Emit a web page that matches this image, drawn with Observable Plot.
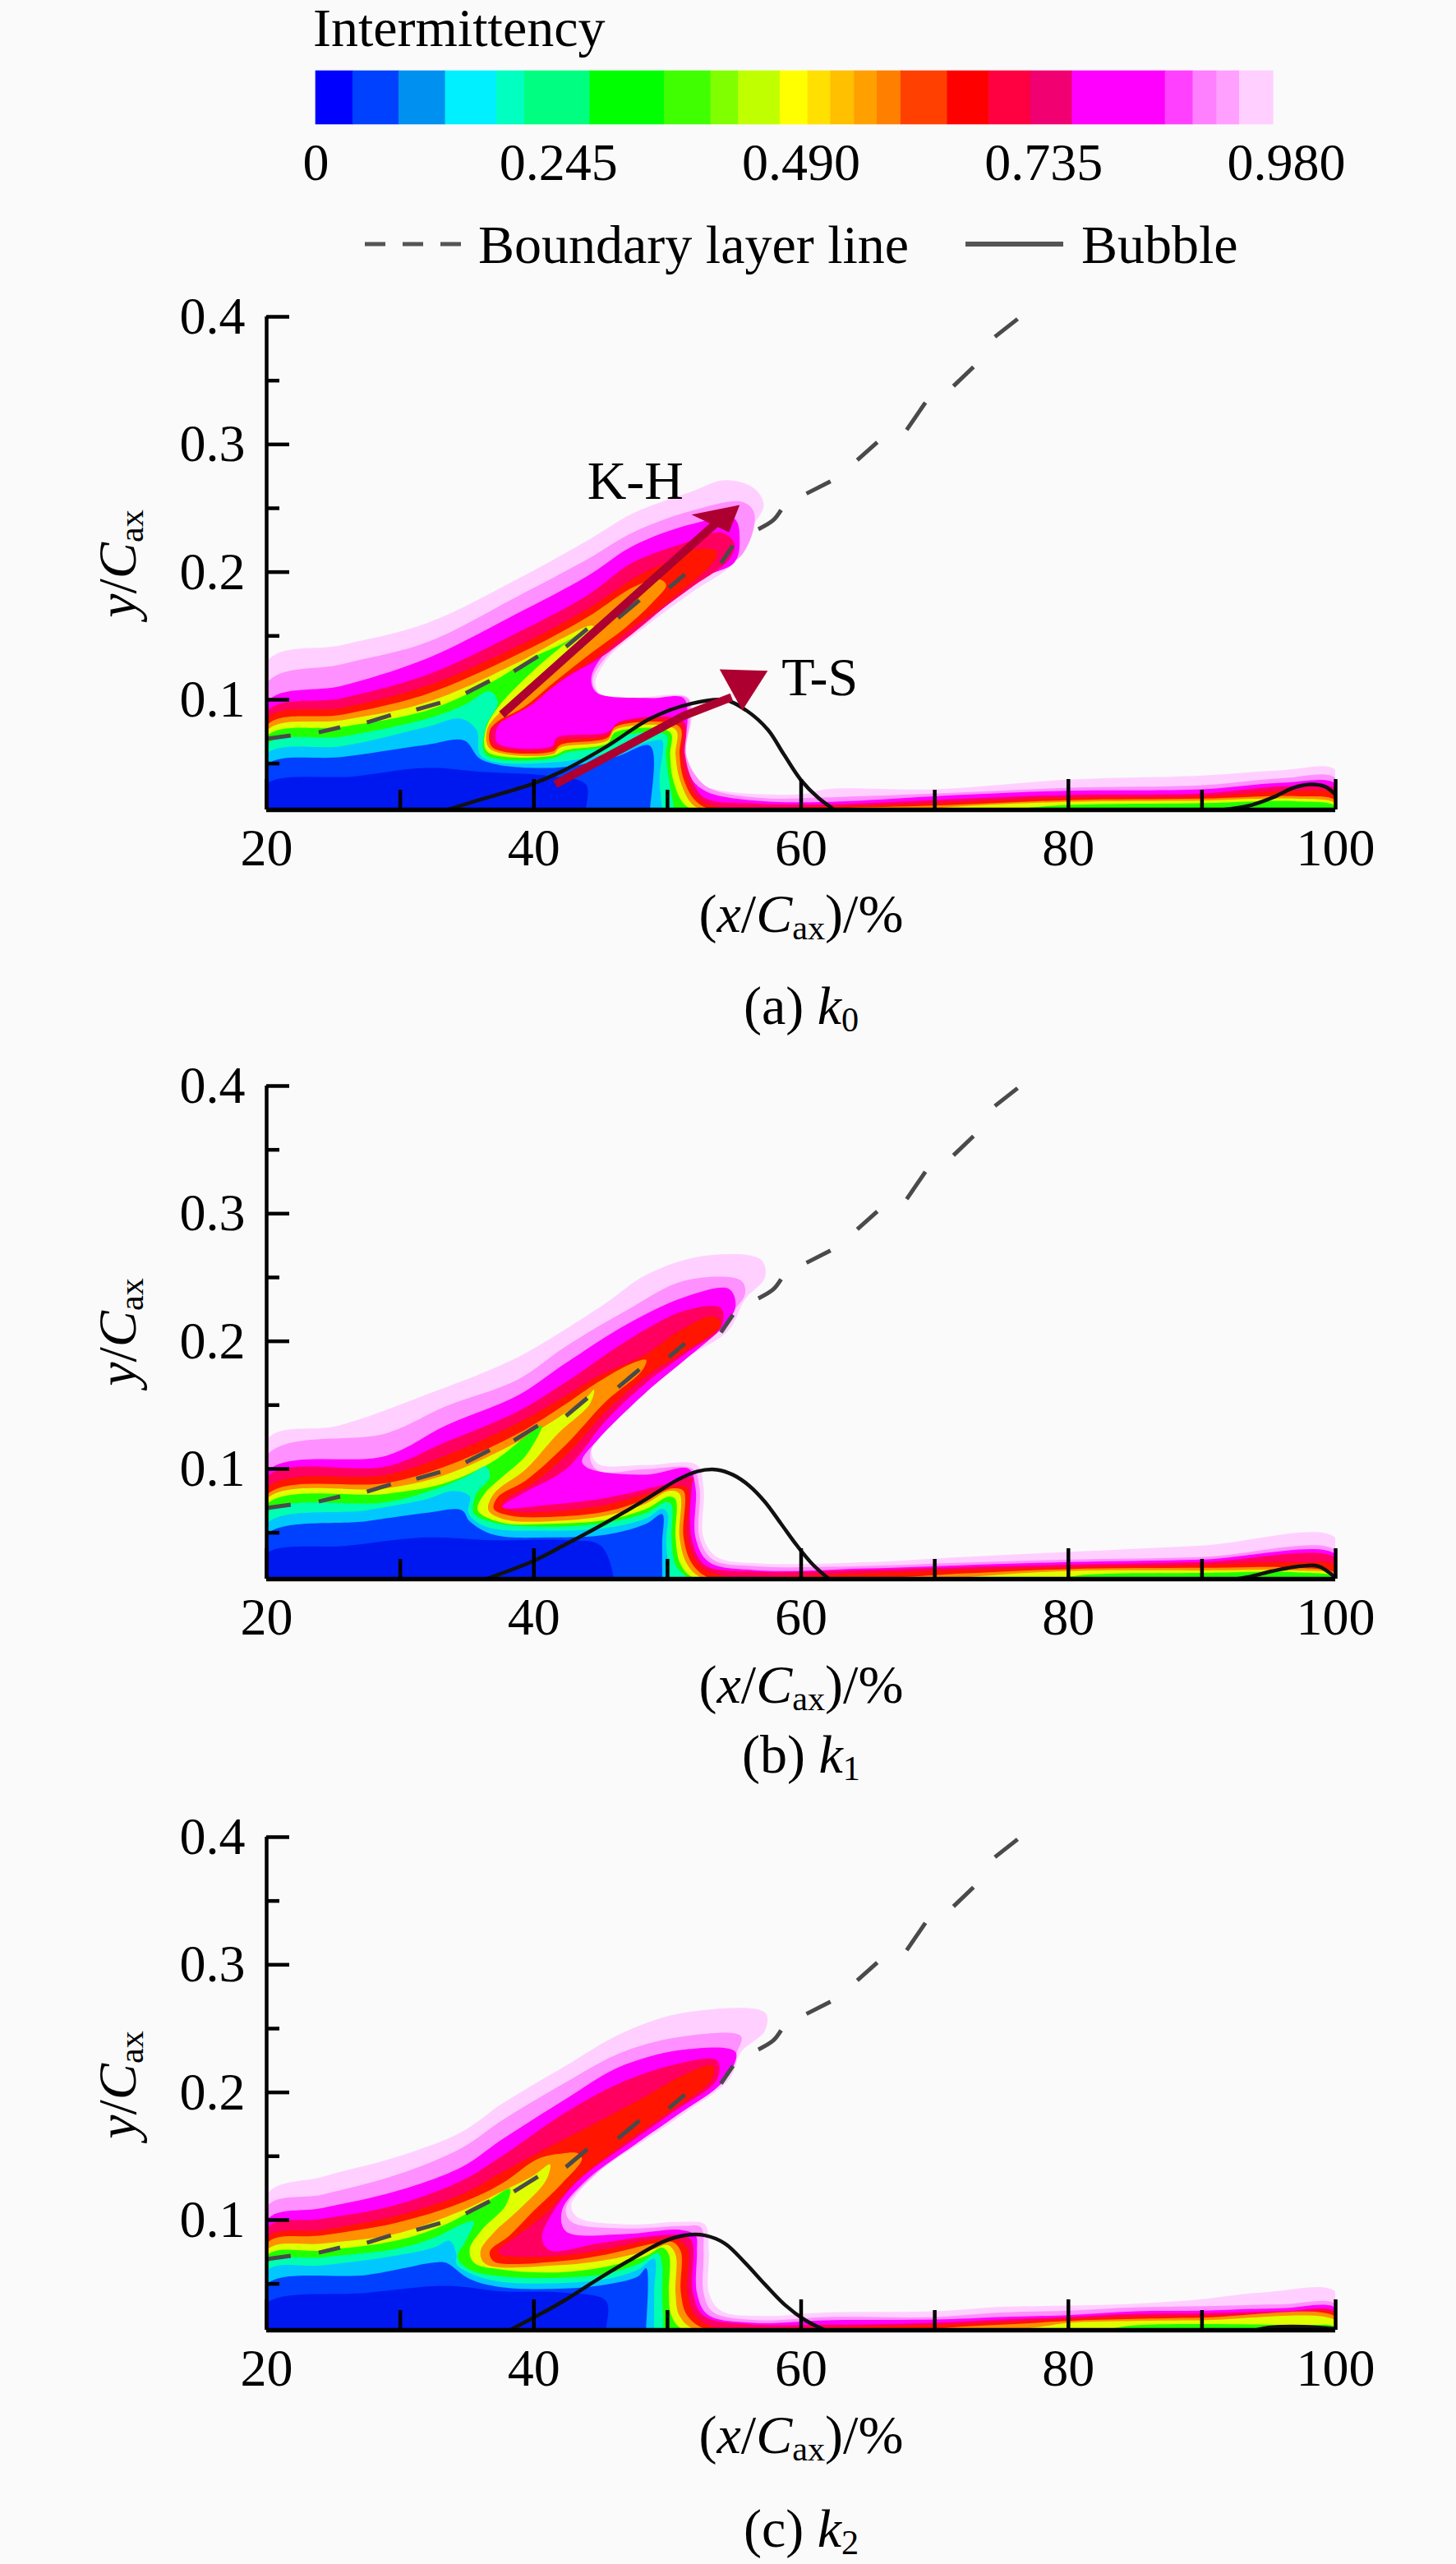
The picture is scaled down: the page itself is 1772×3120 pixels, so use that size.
<!DOCTYPE html>
<html><head><meta charset="utf-8">
<script src="https://cdn.jsdelivr.net/npm/d3@7"></script>
<script src="https://cdn.jsdelivr.net/npm/@observablehq/plot@0.6"></script>
<style>
html,body{margin:0;background:#fafafa}
#page{position:relative;width:1772px;height:3120px;overflow:hidden;font-family:"Liberation Serif",serif;color:#000;background:#fafafa}
#page svg{position:absolute;left:0;overflow:visible}
.t{position:absolute;white-space:nowrap;font-size:66px;line-height:1;transform:translate(-50%,-50%)}
.l{position:absolute;white-space:nowrap;font-size:66px;line-height:1}
.t i{font-style:italic}
.t sub{font-size:.64em;line-height:0;vertical-align:-.22em}
</style></head><body><div id="page"></div>
<script>
// ---- colour bar ----
const barLimits=[0,.0375,.084,.131,.183,.211,.277,.352,.399,.427,.469,.497,.52,.544,.567,.591,.638,.68,.722,.764,.858,.886,.91,.933,.967];
const barColors=["#0000ff","#0040ff","#0090f0","#00f0ff","#00ffc0","#00ff80","#00ff00","#40ff00","#80ff00","#c0ff00","#ffff00","#ffe000","#ffc000","#ffa000","#ff8000","#ff4000","#ff0000","#ff0040","#f00070","#ff00ff","#ff40ff","#ff80ff","#ffa0ff","#ffd0ff"];
const barTicks=[0,.245,.49,.735,.98];
// ---- contour level fills, outermost first ----
const levelColors=["#ffd0ff","#ff90ff","#ff00ff","#ff0060","#ff1500","#ff9000","#e0ff00","#20ff00","#00ffb0","#00c8ff","#0040ff","#0018f0"];
const BOTTOM=.0137;
// Panel (a) k0: flat x,y pairs
const a96=[20,.130,25.7,.143,32,.160,38.6,.1936,44,.2247,47.4,.246,51.8,.263,54.3,.272,56.5,.2655,57.2,.2525,56.2,.233,55,.2075,51.8,.184,48.7,.160,45.5,.132,44.6,.111,45.5,.101,51.5,.102,51.8,.085,51.3,.0573,52.4,.0358,53.7,.0294,60,.026,62,.030,70,.0298,80,.0373,90,.0405,96,.0448,100,.0448];
const a91=[20,.113,25.7,.128,32,.145,38.6,.180,44,.21,47.4,.231,51.8,.248,55.6,.255,56.5,.246,55.6,.214,52.1,.1925,48.7,.1625,45.5,.1345,44.4,.115,45,.1034,48.7,.1013,51.5,.1013,51.7,.085,51.4,.0573,52.3,.038,53.4,.0294,57,.023,62,.0235,70,.0265,80,.031,90,.033,96,.0385,100,.0385];
const a86=[20,.098,25.7,.111,32,.1324,38.6,.1667,44,.1968,47.4,.2204,51.8,.2376,55,.242,55.4,.2247,55,.2075,51.8,.1925,48.7,.1646,45.5,.1388,44.3,.1174,44.7,.1056,48.7,.1013,51.2,.1013,51.5,.085,51.2,.0573,51.8,.038,53,.0276,57,.0206,62,.02,70,.0244,80,.0287,90,.0298,96,.035,100,.034];
const a72=[20,.0906,25.7,.1013,32,.1195,38.6,.1517,44,.1818,47.4,.2075,51.2,.2225,54,.231,55,.2225,54.6,.2097,51.8,.188,49.6,.171,47.4,.152,44.9,.1324,42.4,.1174,40.2,.1002,38,.0873,37.2,.0766,37.3,.0659,41.4,.0637,41.7,.0702,45.5,.0745,46.5,.083,51.2,.083,51.3,.0573,51.8,.038,52.8,.023,56.5,.0187,62,.018,70,.0215,80,.0255,90,.0265,96,.032,100,.03];
const a64=[20,.0852,25.7,.0938,32,.111,38.6,.141,44,.171,47.4,.1946,49.9,.2075,52.1,.218,53.7,.216,53.4,.2075,49.6,.173,47.1,.154,44.9,.1345,42,.115,39.8,.096,37.6,.083,36.8,.0766,37,.0648,41.4,.0616,41.7,.067,45.5,.0723,46.3,.081,51,.081,51.1,.0573,51.5,.038,52.4,.0219,54,.0155,62,.0165,70,.019,80,.0234,90,.0244,97,.0287,100,.026];
const a57=[20,.0798,25.7,.0884,32,.1045,38.6,.1345,44,.1646,47.4,.188,49.3,.1946,49.9,.19,49,.1775,46.8,.156,44.3,.1367,41.7,.1152,39.2,.0938,37.3,.083,36.7,.0755,36.9,.0627,41.4,.0594,42,.0648,45.5,.0702,46.1,.0788,50.9,.0788,50.9,.0573,51.2,.038,52.1,.0208,53.4,.0137,62,.015,70,.017,80,.0213,90,.0225,97,.0245,100,.021];
const a47=[20,.0755,25.7,.0841,32,.098,38.6,.1281,42.4,.1496,44.3,.158,44.6,.156,42.4,.1367,39.8,.1131,37.6,.0916,36.5,.0766,36.7,.0616,41.4,.0573,42,.0627,45.5,.068,46.1,.0766,50.6,.0766,50.6,.0573,50.9,.038,51.8,.0187,52.8,.0137,68,.0137,72,.0165,80,.02,90,.021,97,.0225,100,.0185];
const a40=[20,.0712,25.7,.0788,32,.0916,36.7,.1131,39.8,.1324,42.4,.1453,44,.156,42,.141,39.2,.1152,37.3,.0938,36.4,.0766,36.5,.0594,41.4,.0562,42.4,.0605,45.5,.0659,46.1,.0745,50.2,.0745,50.2,.0573,50.4,.038,51.2,.0187,52.1,.0137,74,.0137,80,.0175,90,.019,97,.0205,100,.0165];
const a21=[20,.0648,25.7,.0712,32,.0852,34.8,.096,36.7,.1067,37.3,.098,36.4,.0788,36.4,.0573,41.4,.0541,42.4,.0584,45.5,.0637,46.5,.0712,49.9,.0723,49.9,.0573,50.1,.038,50.5,.0137];
const a13=[20,.0573,25.7,.0637,32,.0788,34.5,.0852,35.7,.0766,36.1,.0552,41.4,.0509,46.1,.0594,49,.068,49.6,.068,49.4,.038,49.6,.0137];
const a08=[20,.0487,25.7,.0552,32,.0648,34.8,.068,36.1,.053,41.4,.0466,46.1,.0552,48.7,.0637,48.7,.0137];
const a04=[20,.0337,26.6,.04,32,.0466,36.1,.0434,41.4,.04,43.9,.0337,43.9,.0137];
// Panel (b) k1
const b96=[20,.123,25.4,.134,31.9,.158,37.9,.183,40.9,.200,45.4,.230,48.4,.252,52.8,.267,57,.264,57.3,.250,55.8,.233,54.6,.209,51.6,.188,48.4,.162,45.4,.134,44.3,.115,44.8,.104,48.4,.103,52.2,.103,52.7,.085,52.7,.046,53.7,.031,57,.026,65,.027,72,.031,80,.035,90,.04,100,.046];
const b91=[20,.1105,29,.128,33.4,.149,38.8,.170,42.4,.196,46.9,.224,51.3,.2475,55.5,.2475,55.8,.237,54.3,.2175,51.9,.194,48.7,.166,45,.1275,44.2,.110,44.8,.0985,48.4,.0998,51.9,.0998,52.4,.085,52.4,.046,53.4,.029,56.7,.0237,65,.024,72,.0265,80,.029,90,.031,100,.036];
const b86=[20,.0976,29,.1105,33.4,.134,38.8,.1576,42.4,.183,46.9,.213,51.3,.2347,54.6,.241,55.1,.228,54.3,.213,51.3,.1854,48.4,.160,44.8,.123,43.6,.106,44.2,.10,48.4,.0955,51.6,.1,52.1,.085,52.1,.046,53.1,.027,56.7,.0206,65,.022,72,.0245,80,.027,90,.029,100,.033];
const b72=[20,.0934,29,.102,33.4,.121,38.8,.145,42.4,.168,46.9,.20,51.3,.224,54,.226,54,.211,51.3,.19,48.7,.17,45.4,.138,42.4,.0998,39.1,.0805,37.6,.0698,41.2,.072,45.4,.0773,49.9,.088,51.9,.0934,51.8,.085,51.8,.046,52.8,.0248,56.7,.0195,65,.021,72,.023,80,.025,90,.027,100,.03];
const b64=[20,.0848,29,.0955,33.4,.1105,38.8,.136,42.4,.1576,44.8,.1726,48.4,.19,50.7,.2069,53.4,.2197,54,.2133,51.3,.192,48.4,.1726,45.4,.1448,42.4,.1105,40,.089,37.9,.0762,37.6,.0709,38.5,.0666,41.2,.0666,45.4,.072,48.4,.0805,50.7,.087,51.5,.0848,51.5,.0463,52.4,.0248,54.3,.016,60,.0165,65,.0185,72,.021,80,.023,90,.025,97,.027,100,.024];
const b57=[20,.0794,29,.089,33.4,.102,38.8,.1276,42.4,.151,44.5,.166,47.2,.182,48.4,.1854,48.1,.177,45.4,.153,42.4,.119,39.4,.091,37.3,.078,37,.0687,38.2,.0634,41.2,.0623,45.4,.0666,48.4,.0762,50.4,.0848,51.2,.0827,51.2,.0463,51.9,.0248,53.4,.0137,66,.0145,72,.018,80,.0215,90,.0225,97,.0225,100,.018];
const b47=[20,.0762,29,.0848,33.4,.0955,38.8,.1212,41.2,.136,43.9,.1555,44.5,.162,44.2,.151,41.8,.1276,39.4,.0998,37,.0805,36.6,.0677,37.9,.0602,41.2,.059,45.4,.0634,48.4,.073,50.1,.0827,50.9,.0805,50.9,.0463,51.5,.0248,52.8,.0137,70,.0137,74,.0165,80,.02,90,.0205,97,.0205,100,.017];
const b40=[20,.072,29,.0805,33.4,.0891,37,.1062,39.4,.1255,40.6,.134,39.4,.1105,37.6,.0934,36.3,.0805,35.8,.0677,37.6,.058,41.2,.057,45.4,.060,48.4,.0687,50.1,.0784,50.6,.0762,50.6,.0463,51,.0248,52.2,.0137,78,.0137,82,.0175,90,.0185,97,.019,100,.015];
const b21=[20,.0655,29,.074,32.8,.0848,35.2,.0955,36.4,.102,36.7,.0934,35.7,.0805,35.5,.0655,37,.058,41.2,.0548,45.4,.058,48.4,.0655,49.9,.074,50.3,.072,50.3,.0463,50.6,.0248,51.5,.0137];
const b13=[20,.057,27.5,.0677,31.9,.0762,34,.0827,35.2,.0784,35.1,.0655,36.4,.0548,41.2,.0516,45.4,.0537,48.4,.0612,49.6,.0687,50,.0655,49.9,.042,50.2,.0137];
const b08=[20,.0484,27.5,.0591,31.9,.0655,34.6,.0677,35.2,.059,37,.0484,41.2,.0463,45.4,.0484,48.4,.057,49.6,.0645,49.6,.042,49.6,.0137];
const b04=[20,.0334,26,.0398,31.9,.0463,37,.0441,42.4,.0441,45,.04,46,.0137];
// Panel (c) k2
const c96=[20,.120,24.2,.134,29.6,.149,34.6,.169,37.6,.191,42.4,.221,46.6,.2465,51.3,.2625,57.3,.2625,57.3,.2486,55.5,.2315,54.6,.21,51.3,.184,48.4,.163,44.8,.137,42.8,.1116,43.3,.102,46.9,.0966,51.3,.0987,52.8,.0966,53.1,.0752,53.1,.043,54,.029,57.3,.0248,62,.0277,70,.0285,75,.032,80,.033,84,.034,89,.037,95,.0437,100,.0437];
const c91=[20,.1105,24.2,.120,29.6,.135,34.6,.1565,37.6,.178,42.4,.208,46.6,.2315,51.3,.244,55.5,.244,55.2,.2315,54.3,.21,51,.184,48.1,.163,44.5,.135,42.4,.1094,42.8,.0987,46.9,.0934,51.3,.0955,52.5,.0944,52.7,.0752,52.7,.043,53.4,.028,56.7,.0216,62,.024,70,.024,75,.0275,80,.029,85,.0315,90,.0325,96,.034,100,.034];
const c86=[20,.0998,24.2,.1094,29.6,.1223,34.6,.1415,37.6,.163,42.4,.195,46.6,.2208,51.3,.2336,55.1,.2315,54.3,.21,50.7,.182,47.8,.1608,43.9,.1308,42.1,.1073,42.4,.0912,46.9,.0891,51,.0923,52.1,.088,52.2,.0752,52.2,.043,53,.026,56.4,.0195,62,.0215,70,.022,75,.024,80,.0255,85,.0285,90,.029,96,.031,100,.031];
const c72=[20,.0934,24.2,.1009,29.6,.1116,34.6,.1308,37.6,.15,42.4,.1844,46.6,.208,51,.223,53.7,.225,53.7,.21,50.4,.1844,47.2,.1608,43.3,.1308,41.5,.1073,40.6,.0859,41.2,.0762,44.8,.0816,48.4,.087,51,.088,51.8,.0837,51.9,.043,52.7,.025,56.1,.0184,62,.018,70,.0195,75,.022,80,.024,85,.0265,90,.027,96,.0285,100,.028];
const c64=[20,.0859,24.2,.0923,29.6,.103,34.6,.1201,37.6,.1373,40.6,.1544,44.2,.1737,48.4,.1972,51.3,.2143,53.4,.2208,53.3,.21,50.1,.1844,46.6,.1587,43,.1287,40.9,.1051,38.8,.088,37.3,.0752,37.6,.0726,41.8,.072,45.4,.0773,49,.0848,50.7,.0848,51.5,.0773,51.5,.043,52.1,.025,53.7,.0155,62,.016,70,.018,75,.02,80,.0225,85,.0245,90,.025,96,.0265,100,.0265];
const c57=[20,.0816,24.2,.088,29.6,.0976,34.6,.1137,37.6,.1287,40.3,.148,42.1,.1522,43.3,.1522,43.6,.148,42.1,.1287,40,.1073,38.2,.088,36.7,.0752,37,.0677,41.8,.0677,45.4,.073,49,.0816,50.4,.0827,51,.0752,51,.043,51.5,.025,53.1,.0137,68,.0137,72,.0165,76,.0185,80,.021,85,.0225,90,.0235,100,.024];
const c47=[20,.0762,24.2,.0816,29.6,.0891,34.6,.1073,37.6,.1223,40,.1351,41.2,.1437,40.9,.1308,38.8,.1073,37,.0901,36,.0752,36.4,.0655,41.8,.0645,45.4,.0687,49,.0773,50,.0805,50.6,.073,50.6,.043,50.9,.025,52.2,.0137,75,.0137,78,.0165,80,.0195,85,.021,90,.0215,100,.021];
const c40=[20,.072,24.2,.0762,29.6,.0837,33.4,.0966,36.7,.1158,38.2,.1244,37.9,.1116,36.1,.0923,35.2,.0773,35.5,.0666,37.6,.0612,41.8,.059,45.4,.0634,48.4,.072,49.6,.0784,50.1,.073,50.1,.043,50.3,.025,51.3,.0137,82,.0137,85,.0175,90,.0185,97,.0175,100,.016];
const c21=[20,.0655,24.2,.0709,29.6,.0773,32.5,.0859,34.6,.0966,35.5,.0987,34.9,.0837,34.3,.0709,35.2,.0612,37.6,.0559,41.8,.0548,45.4,.058,47.8,.0655,49.3,.0741,49.6,.0645,49.6,.043,49.7,.0137];
const c13=[20,.0602,24.2,.0645,29.6,.072,32.5,.0784,33.7,.0837,34.2,.073,34.2,.0655,35.5,.057,37.6,.0516,41.8,.0505,45.4,.0537,47.8,.0612,49,.0698,49,.043,49,.0137];
const c08=[20,.0495,27.5,.057,32.5,.0666,33.4,.0666,35.2,.0537,37.6,.0473,41.8,.0462,45.4,.0495,47.8,.0559,48.4,.0623,48.4,.0137];
const c04=[20,.0345,27.5,.043,33.4,.0484,37.6,.0441,42.4,.043,45.4,.0366,45.4,.0137];
// Bubble outlines
const aBubble1=[33.5,.0137,35.7,.0208,39.8,.0337,42,.0434,45.5,.0637,48.7,.0852,51.8,.097,54.3,.0998,55.9,.0916,57.5,.0766,58.7,.0573,60,.0369,61.3,.023,62.5,.0137];
const aBubble2=[91.5,.0137,93.5,.0169,95.3,.0234,96.8,.0309,98.1,.0337,99.2,.032,100,.0255];
const bBubble1=[36.4,.0137,40,.028,42.4,.041,45.4,.058,48.4,.0762,50.7,.0912,52.2,.098,53.7,.0994,54.9,.0954,56.1,.087,57.3,.0741,58.5,.057,59.7,.0398,60.9,.0248,62.1,.0137];
const bBubble2=[92.5,.0137,93.7,.0159,95.3,.02,97.4,.0238,98.7,.0238,100,.0148];
const cBubble1=[38.2,.0137,40.6,.027,42.4,.0377,44.8,.0537,47.2,.0687,49.6,.0827,51.3,.088,52.8,.088,54.3,.0816,55.8,.0666,57.3,.0495,58.8,.0334,60.3,.0216,61.8,.0137];
const cBubble2=[94,.0137,95,.0158,97.6,.0165,100,.0148];
// Boundary layer line, one list per visible dash
const blDashes=[
 [20,.0694,21.8,.072],[23.9,.0745,25.5,.0784],[27.5,.0822,29.3,.088],[31.2,.0923,33,.0976],
 [34.9,.1051,36.7,.1148],[38.5,.1223,40.3,.134],[42.4,.1415,44,.1555],[46.3,.164,47.9,.178],
 [50.1,.1876,51.3,.1983],[54,.2069,54.9,.2208],[56.8,.2336,57.9,.2405,58.5,.2486],[60.4,.2615,62.2,.2711],
 [64.2,.2878,65.7,.3017],[67.9,.3114,69.3,.3328],[71.4,.3457,72.9,.3607],[74.5,.3843,76.2,.3983]];
// Arrows in panel (a)
const khShaft=[37.6,.0884,53.6,.238], khHead=[55.4,.2526,51.8,.245,54.6,.2311];
const tsShaft=[41.6,.0337,51.2,.0873,54.8,.102], tsHead=[55.6,.0916,53.9,.1238,57.5,.1227];
const xMajor=[20,40,60,80,100], xMinor=[30,50,70,90], yMajor=[.1,.2,.3,.4], yMinor=[.05,.15,.25,.35];
const arrowColor="#ad0030", fontFamily='"Liberation Serif",serif', fs=64;

const rows=f=>{const r=[];for(let i=0;i<f.length;i+=2)r.push({x:f[i],y:f[i+1]});return r};
const closed=f=>{const r=rows(f);r.unshift({x:r[0].x,y:BOTTOM-.006});r.push({x:r[r.length-1].x,y:BOTTOM-.006});return r};
const page=document.getElementById("page");
const style={background:"none",fontFamily,overflow:"visible"};

function panel(levels,bubbles,top,extra=[]){
  const mt=50,h=600,mb=100;
  const svg=Plot.plot({
    width:1772,height:mt+h+mb,marginLeft:324,marginRight:147,marginTop:mt,marginBottom:mb,style,
    x:{domain:[20,100],axis:null},y:{domain:[BOTTOM,.4],axis:null},
    marks:[
      ...levels.map((f,i)=>Plot.line(closed(f),{x:"x",y:"y",fill:levelColors[i],stroke:"none",curve:"catmull-rom",clip:true})),
      ...blDashes.map(f=>Plot.line(rows(f),{x:"x",y:"y",stroke:"#4a4a4a",strokeWidth:5,strokeLinecap:"butt",curve:"catmull-rom",clip:true})),
      ...bubbles.map(f=>Plot.line(rows(f),{x:"x",y:"y",stroke:"#111",strokeWidth:4.5,curve:"catmull-rom",clip:true})),
      ...extra,
      Plot.axisX(xMinor,{anchor:"bottom",tickSize:-24,strokeWidth:4.5,text:null,label:null}),
      Plot.axisX(xMajor,{anchor:"bottom",tickSize:-37,strokeWidth:4.5,text:null,label:null}),
      Plot.axisX(xMajor,{anchor:"bottom",tickSize:0,tickPadding:22,fontSize:fs,label:null}),
      Plot.axisY(yMinor,{anchor:"left",tickSize:-16,strokeWidth:4.5,text:null,label:null}),
      Plot.axisY(yMajor,{anchor:"left",tickSize:-28,strokeWidth:4.5,text:null,label:null}),
      Plot.axisY(yMajor,{anchor:"left",tickSize:0,tickPadding:26,fontSize:fs,tickFormat:".1f",label:null}),
      Plot.ruleX([20],{stroke:"#000",strokeWidth:4.5}),
      Plot.ruleY([BOTTOM],{stroke:"#000",strokeWidth:5.5})
    ]});
  svg.style.top=(top-mt)+"px";
  // the reference is a soft raster: soften the filled contour bands slightly
  svg.querySelectorAll('g[aria-label="line"]').forEach(g=>{
    if(levelColors.includes(g.getAttribute("fill"))) g.querySelectorAll("path").forEach(p=>p.style.filter="blur(1.6px)");
  });
  page.appendChild(svg);
}
const arrows=[
  Plot.line(rows(khShaft),{x:"x",y:"y",stroke:arrowColor,strokeWidth:10,strokeLinecap:"butt"}),
  Plot.line(rows(khHead),{x:"x",y:"y",fill:arrowColor,stroke:"none"}),
  Plot.line(rows(tsShaft),{x:"x",y:"y",stroke:arrowColor,strokeWidth:10,strokeLinecap:"butt"}),
  Plot.line(rows(tsHead),{x:"x",y:"y",fill:arrowColor,stroke:"none"}),
  Plot.text(["K-H"],{x:47.6,y:.2708,text:d=>d,fontSize:fs+2,fill:"#000"}),
  Plot.text(["T-S"],{x:61.4,y:.1174,text:d=>d,fontSize:fs+2,fill:"#000"})
];
panel([a96,a91,a86,a72,a64,a57,a47,a40,a21,a13,a08,a04],[aBubble1,aBubble2],385,arrows);
panel([b96,b91,b86,b72,b64,b57,b47,b40,b21,b13,b08,b04],[bBubble1,bBubble2],1321);
panel([c96,c91,c86,c72,c64,c57,c47,c40,c21,c13,c08,c04],[cBubble1,cBubble2],2235);

// colour bar
const bands=barColors.map((c,i)=>({a:barLimits[i],b:barLimits[i+1],c}));
const bar=Plot.plot({width:1772,height:340,marginLeft:384,marginRight:207,marginTop:86,marginBottom:189,style,
  x:{domain:[0,.98],axis:null},y:{domain:[0,1],axis:null},
  marks:[
    Plot.rectX(bands,{x1:"a",x2:"b",y1:0,y2:1,fill:"c",inset:-.3}),
    Plot.axisX(barTicks,{anchor:"bottom",tickSize:0,tickPadding:22,fontSize:fs,label:null,tickFormat:d=>d===0?"0":d3.format(".3f")(d)})
  ]});
bar.style.top="0px";page.appendChild(bar);

function html(cls,x,y,s,extra=""){const d=document.createElement("div");d.className=cls;d.style.cssText=`left:${x}px;top:${y}px;${extra}`;d.innerHTML=s;page.appendChild(d)}
html("l",381,8,"Intermittency","line-height:.8");
html("l",582,265,"Boundary layer line");
html("l",1316,265,"Bubble");
const key=document.createElementNS("http://www.w3.org/2000/svg","svg");
key.setAttribute("width",1772);key.setAttribute("height",340);key.style.top="0";
key.innerHTML='<line x1="444" x2="561" y1="297" y2="297" stroke="#555" stroke-width="5" stroke-dasharray="25 21"/><line x1="1175" x2="1294" y1="297" y2="297" stroke="#555" stroke-width="6"/>';
page.appendChild(key);
const xl='(<i>x</i>/<i>C</i><sub>ax</sub>)/%';
const yl='<i>y</i>/<i>C</i><sub>ax</sub>';
[[1112,1224,"a","0",686],[2050,2135,"b","1",1621],[2963,3077,"c","2",2537]].forEach(([ya,yc,n,k,yy])=>{
  html("t",975,ya,xl);
  html("t",975,yc,`(${n}) <i>k</i><sub>${k}</sub>`);
  html("t",143,yy,yl,"transform:translate(-50%,-50%) rotate(-90deg)");
});
</script></body></html>
